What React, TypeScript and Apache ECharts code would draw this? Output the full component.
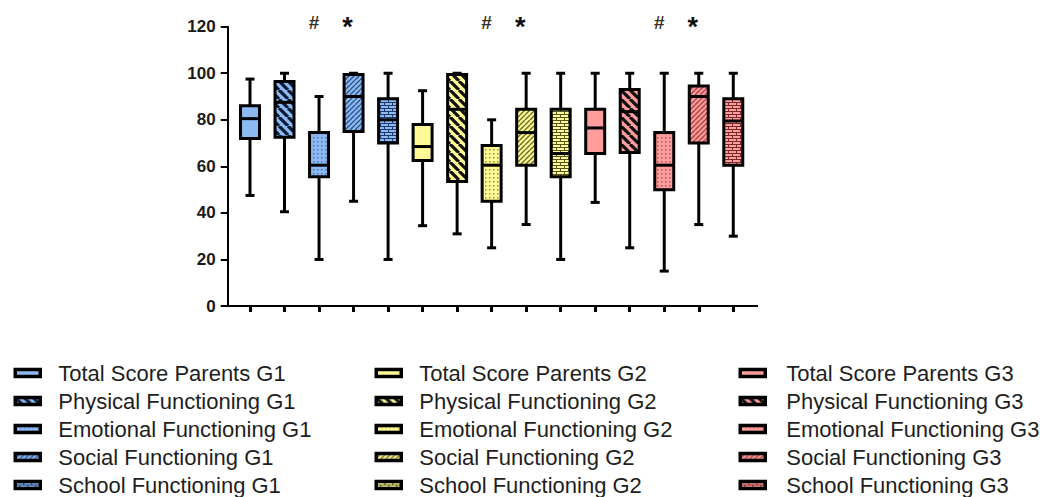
import React, { useEffect, useRef } from 'react';
import * as echarts from 'echarts';

const categories = [
  'Total Score Parents G1', 'Physical Functioning G1', 'Emotional Functioning G1', 'Social Functioning G1', 'School Functioning G1',
  'Total Score Parents G2', 'Physical Functioning G2', 'Emotional Functioning G2', 'Social Functioning G2', 'School Functioning G2',
  'Total Score Parents G3', 'Physical Functioning G3', 'Emotional Functioning G3', 'Social Functioning G3', 'School Functioning G3',
];
const minValues = [47.5, 40.5, 20, 45, 20, 34.5, 31, 25, 35, 20, 44.5, 25, 15, 35, 30];
const q1Values = [72, 72.5, 55.5, 75, 70, 62.5, 53.5, 45, 60.5, 55.5, 65.5, 66, 50, 70, 60.5];
const medianValues = [80.5, 87.5, 60.5, 90, 80, 68.5, 84.5, 60.5, 74.5, 65.5, 76.5, 83.5, 60.5, 90, 79.5];
const q3Values = [86, 96.5, 74.5, 99.5, 89, 78, 99.5, 69, 84.5, 84.5, 84.5, 93, 74.5, 94.5, 89];
const maxValues = [97.5, 100, 90, 100, 100, 92.5, 100, 80, 100, 100, 100, 100, 100, 100, 100];

const yMin = 0;
const yMax = 120;
const yInterval = 20;

const annotationIndex = [2, 3, 7, 8, 12, 13];
const annotationMarks = ['#', '*', '#', '*', '#', '*'];
const annotationLevel = 122;

const groupColors = ['#8DB9F2', '#FFFA96', '#FF9C9C'];
const patternTypes = ['solid', 'bigStripe', 'dots', 'fineStripe', 'brick'];
const patternInks = [
  ['#000', '#0d1a33', '#4a78bd', '#2f528c', '#1f3a6a'],
  ['#000', '#111111', '#8f8f38', '#6a6a28', '#55551f'],
  ['#000', '#111111', '#b85050', '#a84040', '#7a2a2a'],
];

const FONT = '"Liberation Sans", Arial, Helvetica, sans-serif';

function makePattern(bg: string, ink: string, type: string): any {
  if (type === 'solid') return bg;
  let w = 9, h = 9;
  if (type === 'fineStripe') { w = 5; h = 5; }
  if (type === 'dots') { w = 4; h = 4; }
  if (type === 'brick') { w = 8; h = 6; }
  const c = document.createElement('canvas');
  c.width = w; c.height = h;
  const ctx = c.getContext('2d') as CanvasRenderingContext2D;
  ctx.fillStyle = bg;
  ctx.fillRect(0, 0, w, h);
  ctx.strokeStyle = ink;
  ctx.fillStyle = ink;
  if (type === 'bigStripe') {
    ctx.lineWidth = 3.2;
    ctx.beginPath();
    for (let k = -1; k <= 1; k++) {
      ctx.moveTo(k * w, 0);
      ctx.lineTo(k * w + w, h);
    }
    ctx.stroke();
  } else if (type === 'fineStripe') {
    ctx.lineWidth = 1.4;
    ctx.beginPath();
    for (let k = -1; k <= 1; k++) {
      ctx.moveTo(k * w, h);
      ctx.lineTo(k * w + w, 0);
    }
    ctx.stroke();
  } else if (type === 'dots') {
    ctx.fillRect(1, 1, 1.5, 1.5);
  } else if (type === 'brick') {
    ctx.lineWidth = 1;
    ctx.beginPath();
    ctx.moveTo(0, 0.5); ctx.lineTo(w, 0.5);
    ctx.moveTo(0, 3.5); ctx.lineTo(w, 3.5);
    ctx.moveTo(0.5, 0); ctx.lineTo(0.5, 3);
    ctx.moveTo(4.5, 3); ctx.lineTo(4.5, 6);
    ctx.stroke();
  }
  return { image: c.toDataURL(), repeat: 'repeat', imageWidth: w, imageHeight: h };
}

export default function App() {
  const ref = useRef<HTMLDivElement>(null);
  useEffect(() => {
    if (!ref.current) return;
    const chart = echarts.init(ref.current, undefined, { renderer: 'svg' });

    const gridLeft = 232.74;
    const gridTop = 26.7;
    const gridWidth = 517.8;
    const gridHeight = 279.3;

    const boxSeries = categories.map((name, i) => {
      const g = Math.floor(i / 5);
      const t = i % 5;
      const fill = makePattern(groupColors[g], patternInks[g][t], patternTypes[t]);
      return {
        type: 'custom',
        name,
        clip: false,
        itemStyle: { color: fill, borderColor: '#000', borderWidth: 3 },
        encode: { x: 0, y: [1, 2, 3, 4, 5] },
        data: [[i, minValues[i], q1Values[i], medianValues[i], q3Values[i], maxValues[i]]],
        renderItem: (params: any, api: any) => {
          const x = api.value(0);
          const pMin = api.coord([x, api.value(1)]);
          const pQ1 = api.coord([x, api.value(2)]);
          const pMed = api.coord([x, api.value(3)]);
          const pQ3 = api.coord([x, api.value(4)]);
          const pMax = api.coord([x, api.value(5)]);
          const cx = pMin[0];
          const bw = api.size([1, 0])[0] * 0.55;
          const cap = 4.5;
          const lineStyle = { stroke: '#000', lineWidth: 3 };
          return {
            type: 'group',
            children: [
              { type: 'line', shape: { x1: cx, y1: pQ1[1], x2: cx, y2: pMin[1] }, style: lineStyle },
              { type: 'line', shape: { x1: cx, y1: pQ3[1], x2: cx, y2: pMax[1] }, style: lineStyle },
              { type: 'line', shape: { x1: cx - cap, y1: pMin[1], x2: cx + cap, y2: pMin[1] }, style: lineStyle },
              { type: 'line', shape: { x1: cx - cap, y1: pMax[1], x2: cx + cap, y2: pMax[1] }, style: lineStyle },
              {
                type: 'rect',
                shape: { x: cx - bw / 2, y: pQ3[1], width: bw, height: pQ1[1] - pQ3[1] },
                style: { fill, stroke: '#000', lineWidth: 3 },
              },
              { type: 'line', shape: { x1: cx - bw / 2, y1: pMed[1], x2: cx + bw / 2, y2: pMed[1] }, style: lineStyle },
            ],
          };
        },
      };
    });

    const annotationSeries = {
      type: 'custom',
      name: 'annotations',
      clip: false,
      silent: true,
      encode: { x: 0, y: 1 },
      data: annotationIndex.map((c) => [c, annotationLevel]),
      renderItem: (params: any, api: any) => {
        const p = api.coord([api.value(0), api.value(1)]);
        const mark = annotationMarks[params.dataIndex];
        const isStar = mark === '*';
        return {
          type: 'text',
          x: p[0] - (isStar ? 6 : 5),
          y: p[1] + (isStar ? 5 : 0),
          style: {
            text: mark,
            fontSize: isStar ? 27 : 19,
            fontWeight: 'bold',
            fontFamily: FONT,
            fill: isStar ? '#111' : '#3a3020',
            align: 'center',
            verticalAlign: 'middle',
          },
        };
      },
    };

    const legendLefts = [13.5, 374.5, 738.5];
    const legendTextPad = [13, 13, 16];

    chart.setOption({
      animation: false,
      backgroundColor: '#fff',
      grid: { left: gridLeft, top: gridTop, width: gridWidth, height: gridHeight, containLabel: false },
      xAxis: {
        type: 'category',
        data: categories,
        axisLine: { show: false },
        axisTick: { show: true, interval: 0, alignWithLabel: true, length: 6, lineStyle: { color: '#000', width: 3 } },
        axisLabel: { show: false, interval: 0 },
        splitLine: { show: false },
      },
      yAxis: {
        type: 'value',
        min: yMin,
        max: yMax,
        interval: yInterval,
        offset: 5,
        axisLine: { show: true, lineStyle: { color: '#000', width: 2 } },
        axisTick: { show: true, length: 7, lineStyle: { color: '#000', width: 2 } },
        axisLabel: { margin: 12, fontSize: 17, fontWeight: 'bold', color: '#1a1a1a', fontFamily: FONT },
        splitLine: { show: false },
      },
      legend: [0, 1, 2].map((g) => ({
        orient: 'vertical',
        left: legendLefts[g],
        top: 362,
        padding: 0,
        itemWidth: 25,
        itemHeight: 7,
        itemGap: 6,
        icon: 'rect',
        selectedMode: false,
        data: categories.slice(g * 5, g * 5 + 5),
        itemStyle: { borderColor: '#000', borderWidth: 3.5 },
        textStyle: { fontSize: 22, color: '#1e1e1e', fontFamily: FONT, padding: [0, 0, 0, legendTextPad[g]] },
      })),
      graphic: [
        {
          type: 'line',
          shape: { x1: 227, y1: gridTop + gridHeight, x2: 758, y2: gridTop + gridHeight },
          style: { stroke: '#000', lineWidth: 2 },
          silent: true,
        },
      ],
      series: [...boxSeries, annotationSeries],
    });

    return () => chart.dispose();
  }, []);

  return <div ref={ref} style={{ position: 'absolute', left: 0, top: 0, width: 1040, height: 497 }} />;
}
